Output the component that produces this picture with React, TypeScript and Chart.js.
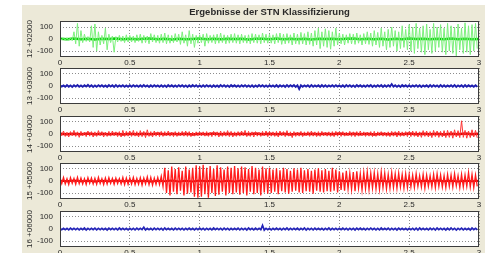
import { useEffect, useRef } from 'react';
import { Chart, registerables } from 'chart.js';

Chart.register(...registerables);

// ---------------- data ----------------
const titleText = 'Ergebnisse der STN Klassifizierung';
const channelLabels = ['12 +02000', '13 +03000', '14 +04000', '15 +05000', '16 +06000'];
const xTickValues = [0, 0.5, 1, 1.5, 2, 2.5, 3];
const yTickValues = [-100, 0, 100];
const xRange = [0, 3];
const yRange = [-150, 150];
const binWidth = 0.025; // seconds per hi/lo envelope bin
const coreStep = 0.05; // seconds per core sample

// channel 12 (green) envelope
const ch12Hi = [
  8, 10, 12, 9, 60, 130, 70, 40, 20, 110, 125, 60, 30, 90, 40, 25, 20, 30, 25, 35,
  30, 25, 35, 40, 30, 25, 45, 35, 30, 40, 50, 35, 30, 45, 40, 60, 35, 70, 40, 30,
  35, 40, 45, 30, 35, 40, 50, 35, 30, 40, 45, 35, 40, 30, 35, 45, 40, 35, 50, 40,
  40, 35, 45, 50, 40, 45, 35, 50, 40, 55, 45, 60, 50, 70, 90, 60, 85, 70, 60, 90,
  50, 40, 35, 45, 40, 50, 35, 45, 60, 50, 70, 55, 90, 60, 80, 100, 70, 60, 110, 80,
  120, 100, 130, 90, 110, 125, 80, 130, 100, 120, 90, 130, 110, 100, 125, 90, 135, 110, 120, 130,
];
const ch12Lo = [
  -8, -10, -12, -15, -40, -60, -30, -20, -25, -70, -100, -50, -40, -90, -30, -110, -25, -20, -30, -25,
  -25, -30, -20, -35, -30, -40, -25, -30, -35, -30, -40, -35, -30, -25, -45, -35, -60, -40, -70, -35,
  -30, -60, -35, -30, -40, -35, -30, -40, -35, -30, -35, -40, -30, -35, -40, -30, -35, -40, -30, -35,
  -35, -40, -30, -45, -40, -35, -50, -40, -45, -40, -50, -45, -60, -50, -80, -60, -70, -85, -60, -50,
  -40, -50, -35, -40, -45, -35, -50, -40, -45, -60, -50, -70, -60, -90, -70, -60, -100, -80, -70, -90,
  -100, -120, -80, -110, -130, -90, -120, -100, -70, -110, -130, -100, -120, -140, -90, -120, -110, -130, -100, -80,
];
const ch12Core = [
  3, -2, 4, -3, 2, -4, 3, -1, 4, -2, 3, -3, 2, 4, -2, 3, -4, 2, -3, 1,
  4, -2, 3, -3, 2, -1, 3, -4, 2, 3, -2, 4, -3, 2, -2, 3, -4, 2, -1, 3,
  -3, 2, 4, -2, 3, -3, 2, -4, 3, -2, 4, -1, 2, -3, 3, -2, 4, -3, 2, -2,
  1,
];

// channel 13 (blue) envelope
const ch13Hi = [
  6, 5, 7, 5, 6, 8, 5, 6, 9, 6, 5, 7, 6, 5, 8, 6, 7, 5, 6, 5,
  6, 7, 5, 6, 8, 5, 6, 7, 5, 6, 5, 8, 6, 5, 7, 6, 5, 6, 8, 6,
  5, 6, 7, 5, 6, 5, 8, 6, 5, 7, 6, 5, 6, 7, 5, 6, 5, 8, 6, 5,
  6, 5, 7, 6, 5, 8, 6, 7, 5, 6, 5, 6, 7, 5, 6, 8, 6, 5, 6, 7,
  5, 6, 8, 6, 5, 7, 6, 5, 6, 7, 5, 6, 8, 6, 7, 16, 6, 5, 7, 6,
  6, 5, 7, 6, 5, 6, 8, 6, 5, 7, 6, 5, 6, 7, 5, 6, 8, 6, 5, 6,
];
const ch13Lo = [
  -5, -7, -6, -8, -5, -6, -7, -5, -6, -8, -7, -5, -6, -7, -5, -8, -6, -5, -7, -6,
  -6, -5, -7, -6, -5, -8, -6, -5, -7, -6, -8, -5, -6, -7, -5, -6, -8, -6, -5, -7,
  -7, -6, -5, -8, -6, -7, -5, -6, -8, -5, -6, -7, -5, -6, -7, -8, -6, -5, -6, -7,
  -5, -6, -8, -5, -7, -6, -5, -8, -25, -6, -5, -7, -6, -5, -8, -6, -7, -5, -6, -5,
  -6, -7, -5, -6, -8, -5, -6, -7, -5, -8, -6, -5, -7, -6, -5, -6, -7, -8, -5, -6,
  -7, -5, -6, -8, -5, -7, -6, -5, -8, -6, -7, -5, -6, -8, -5, -7, -6, -5, -7, -6,
];

// channel 14 (red) envelope
const ch14Hi = [
  20, 25, 15, 20, 30, 18, 22, 15, 25, 20, 18, 28, 20, 15, 22, 25, 18, 20, 30, 22,
  25, 30, 20, 28, 22, 35, 20, 25, 18, 22, 20, 25, 15, 20, 18, 22, 25, 20, 15, 18,
  15, 18, 20, 15, 22, 18, 25, 20, 28, 22, 18, 20, 25, 30, 22, 18, 20, 15, 22, 25,
  20, 18, 22, 25, 20, 28, 18, 20, 15, 22, 18, 20, 25, 18, 20, 22, 15, 18, 20, 22,
  18, 20, 15, 22, 18, 20, 25, 18, 15, 20, 22, 18, 20, 15, 18, 22, 20, 25, 18, 20,
  20, 25, 22, 18, 28, 25, 20, 30, 25, 22, 28, 30, 25, 35, 28, 110, 30, 25, 35, 30,
];
const ch14Lo = [
  -15, -20, -25, -15, -20, -28, -15, -22, -18, -25, -20, -15, -25, -20, -18, -15, -22, -25, -20, -18,
  -20, -18, -25, -22, -30, -20, -25, -18, -22, -20, -15, -18, -22, -20, -15, -18, -20, -22, -18, -15,
  -15, -18, -20, -22, -18, -25, -20, -18, -22, -25, -20, -18, -15, -22, -20, -25, -18, -20, -15, -22,
  -18, -20, -25, -15, -22, -18, -30, -20, -18, -22, -15, -20, -18, -22, -20, -15, -18, -20, -22, -18,
  -20, -18, -15, -20, -22, -18, -15, -20, -18, -22, -20, -15, -18, -20, -22, -18, -25, -20, -18, -22,
  -22, -20, -25, -28, -20, -25, -30, -22, -28, -25, -30, -28, -35, -25, -30, -28, -35, -30, -25, -32,
];
const ch14Core = [
  2, -3, 3, -2, 4, -3, 2, -2, 3, -4, 2, -3, 3, -2, 4, -2, 3, -3, 2, -4,
  3, -2, 4, -3, 2, -3, 3, -2, 4, -2, 2, -3, 3, -4, 2, -2, 3, -3, 2, -2,
  4, -3, 2, -2, 3, -4, 2, -3, 3, -2, 4, -3, 2, -2, 3, -4, 3, -2, 4, -3,
  2,
];

// channel 15 (red) envelope
const ch15Hi = [
  25, 30, 20, 28, 22, 30, 25, 20, 28, 25, 22, 30, 20, 25, 28, 22, 25, 20, 30, 25,
  25, 30, 22, 28, 25, 35, 30, 25, 30, 40, 110, 90, 120, 100, 115, 85, 120, 95, 110, 130,
  120, 135, 110, 125, 100, 130, 115, 95, 120, 110, 125, 105, 120, 115, 100, 125, 110, 95, 120, 105,
  110, 95, 105, 90, 110, 100, 85, 105, 95, 110, 90, 100, 85, 95, 105, 90, 100, 85, 110, 95,
  80, 70, 85, 65, 75, 80, 60, 70, 75, 65, 70, 60, 75, 65, 55, 70, 60, 65, 55, 60,
  55, 50, 60, 45, 55, 50, 45, 55, 60, 50, 45, 55, 50, 60, 45, 55, 50, 70, 55, 50,
];
const ch15Lo = [
  -22, -25, -30, -20, -28, -22, -25, -30, -20, -25, -28, -22, -30, -25, -20, -28, -22, -25, -30, -28,
  -25, -30, -28, -35, -25, -30, -35, -28, -30, -45, -100, -120, -90, -110, -80, -120, -105, -95, -130, -140,
  -130, -110, -140, -100, -125, -115, -90, -120, -100, -110, -95, -115, -100, -120, -90, -110, -100, -120, -95, -105,
  -100, -90, -110, -85, -95, -105, -90, -80, -95, -100, -85, -90, -105, -80, -90, -95, -85, -90, -80, -95,
  -75, -80, -65, -70, -85, -60, -75, -65, -70, -60, -65, -70, -55, -65, -60, -55, -60, -50, -60, -55,
  -50, -55, -45, -50, -60, -45, -50, -55, -45, -50, -55, -45, -50, -40, -55, -50, -45, -50, -55, -45,
];
const ch15Core = [
  3, -3, 4, -2, 3, -4, 2, -3, 4, -2, 3, -3, 2, -4, 3, -2, 5, -4, 3, -5,
  4, -3, 5, -4, 3, -5, 4, -3, 5, -4, 3, -5, 4, -3, 5, -4, 3, -5, 4, -3,
  4, -3, 3, -4, 4, -3, 3, -4, 4, -3, 3, -4, 3, -3, 4, -3, 3, -4, 3, -3,
  2,
];

// channel 16 (blue) envelope
const ch16Hi = [
  5, 6, 5, 7, 6, 5, 6, 8, 5, 6, 7, 5, 6, 5, 7, 6, 5, 8, 6, 5,
  6, 5, 7, 6, 15, 6, 5, 7, 6, 5, 8, 6, 5, 7, 6, 5, 6, 7, 5, 6,
  7, 6, 5, 6, 8, 5, 6, 7, 5, 6, 5, 7, 6, 5, 8, 6, 7, 5, 30, 6,
  6, 5, 7, 6, 5, 8, 6, 5, 7, 6, 8, 6, 5, 7, 6, 5, 6, 8, 6, 5,
  5, 7, 6, 5, 6, 7, 8, 6, 5, 7, 6, 5, 8, 6, 7, 6, 5, 7, 6, 5,
  6, 5, 7, 8, 6, 5, 7, 6, 8, 5, 6, 7, 9, 6, 5, 7, 6, 5, 8, 6,
];
const ch16Lo = [
  -6, -5, -7, -6, -5, -7, -6, -8, -5, -6, -7, -5, -6, -8, -6, -5, -7, -6, -5, -7,
  -5, -7, -6, -5, -8, -6, -7, -5, -6, -8, -5, -6, -7, -5, -6, -8, -6, -5, -7, -6,
  -6, -8, -5, -7, -6, -5, -7, -6, -8, -5, -6, -7, -5, -8, -6, -7, -5, -6, -9, -6,
  -7, -6, -5, -8, -6, -7, -5, -6, -7, -5, -8, -6, -7, -5, -6, -8, -5, -7, -6, -5,
  -6, -5, -7, -6, -8, -5, -6, -7, -5, -6, -8, -7, -5, -6, -7, -5, -8, -6, -5, -7,
  -5, -7, -8, -6, -5, -7, -6, -9, -5, -6, -8, -7, -6, -9, -5, -7, -6, -8, -5, -6,
];

// ---------------- styles / layout ----------------
type ChannelStyle = {
  hi: number[];
  lo: number[];
  core: number[] | null;
  noiseColor: string;
  noiseWidth: number;
  coreColor: string;
  coreWidth: number;
};

const channels: ChannelStyle[] = [
  { hi: ch12Hi, lo: ch12Lo, core: ch12Core, noiseColor: '#7cf07c', noiseWidth: 1, coreColor: '#00d000', coreWidth: 2.5 },
  { hi: ch13Hi, lo: ch13Lo, core: null, noiseColor: '#1e1eb0', noiseWidth: 1.9, coreColor: '#1e1eb0', coreWidth: 0 },
  { hi: ch14Hi, lo: ch14Lo, core: ch14Core, noiseColor: '#ff3434', noiseWidth: 1, coreColor: '#e00000', coreWidth: 2.5 },
  { hi: ch15Hi, lo: ch15Lo, core: ch15Core, noiseColor: '#ff1c1c', noiseWidth: 1.3, coreColor: '#d80000', coreWidth: 2 },
  { hi: ch16Hi, lo: ch16Lo, core: null, noiseColor: '#2424b8', noiseWidth: 1.7, coreColor: '#2424b8', coreWidth: 0 },
];

const W = 488;
const H = 253;
const plotTops = [21, 68, 116, 163, 211];
const plotHeight = 36;
const xAxisHeight = 13;
const padLeft = 22;
const yAxisWidth = 38;
const padRight = 9;
const FONT = "'Liberation Sans', Arial, Helvetica, sans-serif";
const TEXT = '#2a2a2a';

function envelopePoints(hi: number[], lo: number[]) {
  const pts: { x: number; y: number }[] = [];
  for (let i = 0; i < hi.length; i++) {
    pts.push({ x: i * binWidth, y: hi[i] });
    pts.push({ x: i * binWidth + binWidth / 2, y: lo[i] });
  }
  return pts;
}

function corePoints(core: number[]) {
  return core.map((v, i) => ({ x: i * coreStep, y: v }));
}

const boxPlugin = {
  id: 'matlabBox',
  beforeDraw(chart: any) {
    const { ctx, chartArea } = chart;
    ctx.save();
    ctx.fillStyle = '#ffffff';
    ctx.fillRect(chartArea.left, chartArea.top, chartArea.right - chartArea.left, chartArea.bottom - chartArea.top);
    ctx.restore();
  },
  afterDatasetsDraw(chart: any) {
    const { ctx, chartArea } = chart;
    ctx.save();
    ctx.strokeStyle = '#3c3c3c';
    ctx.lineWidth = 1;
    ctx.strokeRect(
      Math.round(chartArea.left) + 0.5,
      Math.round(chartArea.top) + 0.5,
      Math.round(chartArea.right - chartArea.left) - 1,
      Math.round(chartArea.bottom - chartArea.top) - 1
    );
    ctx.restore();
  },
};

export default function App() {
  const refs = useRef<(HTMLCanvasElement | null)[]>([]);

  useEffect(() => {
    const charts: Chart[] = [];
    channels.forEach((ch, k) => {
      const canvas = refs.current[k];
      if (!canvas) return;
      const datasets: any[] = [
        {
          data: envelopePoints(ch.hi, ch.lo),
          borderColor: ch.noiseColor,
          borderWidth: ch.noiseWidth,
          pointRadius: 0,
          tension: 0,
          fill: false,
        },
      ];
      if (ch.core) {
        datasets.push({
          data: corePoints(ch.core),
          borderColor: ch.coreColor,
          borderWidth: ch.coreWidth,
          pointRadius: 0,
          tension: 0,
          fill: false,
        });
      }
      const isFirst = k === 0;
      const chart = new Chart(canvas, {
        type: 'line',
        data: { datasets },
        plugins: [boxPlugin],
        options: {
          animation: false,
          responsive: false,
          events: [],
          layout: { padding: { left: padLeft, right: padRight, top: isFirst ? 0 : 3, bottom: 0 } },
          plugins: {
            legend: { display: false },
            tooltip: { enabled: false },
            title: {
              display: isFirst,
              text: titleText,
              fullSize: false,
              color: TEXT,
              font: { family: FONT, size: 9.5, weight: 'bold', lineHeight: 1.2 },
              padding: { top: 6.5, bottom: 3.1 },
            },
          },
          scales: {
            x: {
              type: 'linear',
              min: xRange[0],
              max: xRange[1],
              afterBuildTicks: (scale: any) => {
                scale.ticks = xTickValues.map((v) => ({ value: v }));
              },
              afterFit: (scale: any) => {
                scale.height = xAxisHeight;
                scale.paddingLeft = 0;
                scale.paddingRight = 0;
              },
              ticks: {
                autoSkip: false,
                maxRotation: 0,
                padding: 1,
                color: TEXT,
                font: { family: FONT, size: 8 },
                callback: (v: any) => String(v),
              },
              grid: { color: '#8c8c8c', lineWidth: 1, drawTicks: false },
              border: { display: false, dash: [1, 2] },
            },
            y: {
              type: 'linear',
              min: yRange[0],
              max: yRange[1],
              afterBuildTicks: (scale: any) => {
                scale.ticks = yTickValues.map((v) => ({ value: v }));
              },
              afterFit: (scale: any) => {
                scale.width = yAxisWidth;
                scale.paddingTop = 0;
                scale.paddingBottom = 0;
              },
              ticks: {
                autoSkip: false,
                padding: 7,
                color: TEXT,
                font: { family: FONT, size: 8 },
                callback: (v: any) => String(v),
              },
              grid: { color: '#8c8c8c', lineWidth: 1, drawTicks: false },
              border: { display: false, dash: [1, 2] },
              title: {
                display: true,
                text: channelLabels[k],
                color: TEXT,
                font: { family: FONT, size: 8 },
                padding: { top: 3, bottom: 0 },
              },
            },
          },
        } as any,
      });
      charts.push(chart);
    });
    return () => charts.forEach((c) => c.destroy());
  }, []);

  return (
    <div style={{ position: 'fixed', left: 0, top: 0, width: W, height: H, background: '#ffffff', overflow: 'hidden' }}>
      <div style={{ position: 'absolute', left: 22, top: 5, width: 463, height: H - 5, background: '#ece9d8' }} />
      {channels.map((_, k) => {
        const top = k === 0 ? 0 : plotTops[k] - 3;
        const height = plotTops[k] - top + plotHeight + xAxisHeight;
        return (
          <canvas
            key={k}
            ref={(el) => {
              refs.current[k] = el;
            }}
            width={W}
            height={height}
            style={{ position: 'absolute', left: 0, top, width: W, height, display: 'block' }}
          />
        );
      })}
    </div>
  );
}
